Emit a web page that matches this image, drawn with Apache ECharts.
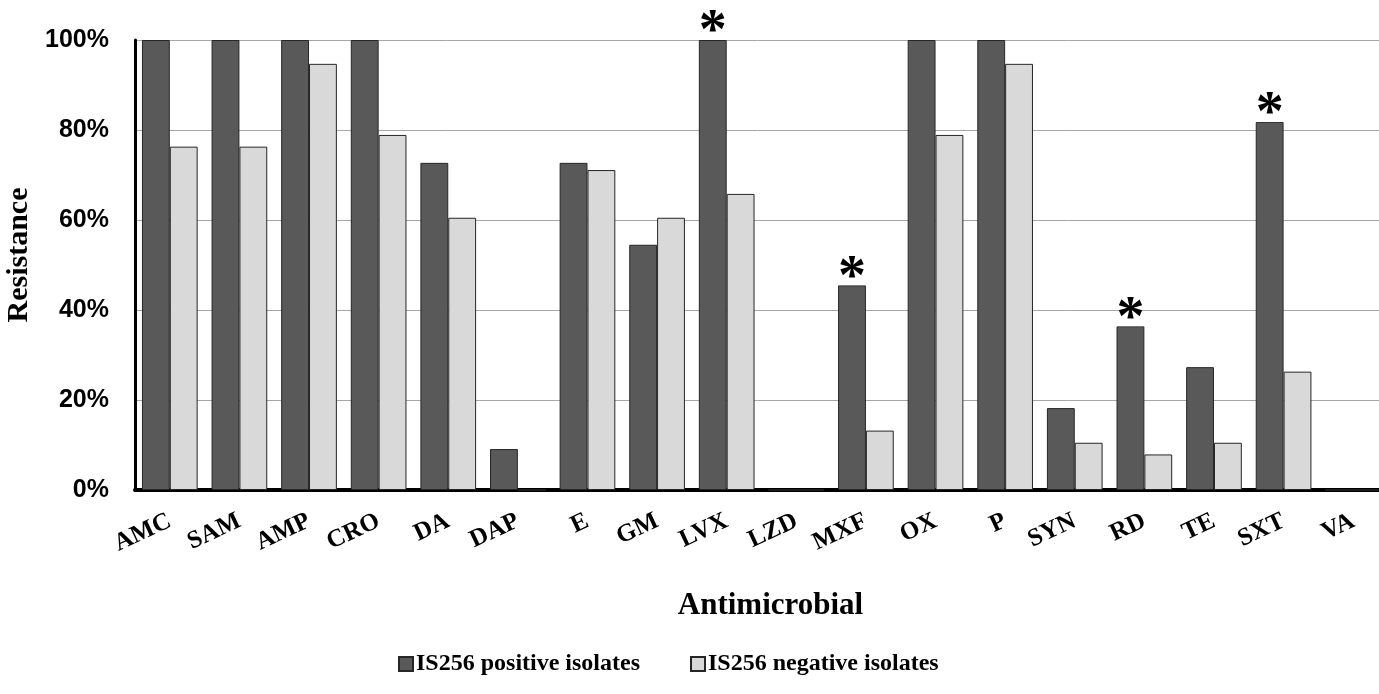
<!DOCTYPE html>
<html>
<head>
<meta charset="utf-8">
<script src="https://cdn.jsdelivr.net/npm/echarts@6/dist/echarts.min.js"></script>
<style>
  html, body { margin: 0; padding: 0; background: #fff; }
  #chart { width: 1379px; height: 694px; }
</style>
</head>
<body>
<div id="chart"></div>
<script>
// Antimicrobial agents tested
const categories = ['AMC', 'SAM', 'AMP', 'CRO', 'DA', 'DAP', 'E', 'GM', 'LVX', 'LZD',
                    'MXF', 'OX', 'P', 'SYN', 'RD', 'TE', 'SXT', 'VA'];
// Resistance (%) among IS256-positive isolates
const positiveValues = [100, 100, 100, 100, 72.7, 9.1, 72.7, 54.5, 100, 0,
                        45.5, 100, 100, 18.2, 36.4, 27.3, 81.8, 0];
// Resistance (%) among IS256-negative isolates
const negativeValues = [76.3, 76.3, 94.7, 78.9, 60.5, 0, 71.1, 60.5, 65.8, 0,
                        13.2, 78.9, 94.7, 10.5, 7.9, 10.5, 26.3, 0];
// Agents with a significant difference between the two groups
const significant = ['LVX', 'MXF', 'RD', 'SXT'];
// Y-axis ticks
const yTicks = [0, 20, 40, 60, 80, 100];

const serif = '"Liberation Serif", "Times New Roman", serif';
const sans = '"Liberation Sans", Arial, sans-serif';

const chart = echarts.init(document.getElementById('chart'), null, { renderer: 'canvas' });

chart.setOption({
  animation: false,
  backgroundColor: '#ffffff',
  grid: { left: 135, right: -9, top: 40, bottom: 204, containLabel: false, outerBoundsMode: 'none' },
  legend: {
    left: 393,
    top: 647,
    itemWidth: 14,
    itemHeight: 14,
    itemGap: 50,
    icon: 'rect',
    textStyle: { fontFamily: serif, fontWeight: 'bold', fontSize: 24, color: '#000', padding: [0, 0, 0, -2] },
    data: ['IS256 positive isolates', 'IS256 negative isolates']
  },
  xAxis: {
    type: 'category',
    data: categories,
    name: 'Antimicrobial',
    nameLocation: 'middle',
    nameGap: 100,
    nameTextStyle: { fontFamily: serif, fontWeight: 'bold', fontSize: 31, color: '#000', padding: [0, 0, 0, 18] },
    axisLine: { show: true, lineStyle: { color: '#000', width: 4 } },
    axisTick: { show: false },
    axisLabel: {
      rotate: 25,
      margin: 30,
      interval: 0,
      fontFamily: serif,
      fontWeight: 'bold',
      fontSize: 25,
      color: '#000'
    },
    splitLine: { show: false }
  },
  yAxis: {
    type: 'value',
    min: yTicks[0],
    max: yTicks[yTicks.length - 1],
    interval: 20,
    name: 'Resistance',
    nameLocation: 'middle',
    nameGap: 93,
    nameRotate: 90,
    nameTextStyle: { fontFamily: serif, fontWeight: 'bold', fontSize: 30, color: '#000', padding: [0, 0, 0, 20] },
    axisLine: { show: true, lineStyle: { color: '#000', width: 3 } },
    axisTick: { show: false },
    axisLabel: {
      margin: 26,
      fontFamily: sans,
      fontWeight: 'bold',
      fontSize: 25,
      color: '#000',
      formatter: v => v + '%'
    },
    splitLine: { show: true, lineStyle: { color: '#a6a6a6', width: 1 } }
  },
  series: [
    {
      name: 'IS256 positive isolates',
      type: 'bar',
      data: positiveValues,
      barGap: '0%',
      barCategoryGap: '20%',
      itemStyle: { color: '#595959', borderColor: '#262626', borderWidth: 1 },
      label: {
        show: true,
        position: 'top',
        distance: 0,
        formatter: p => significant.includes(p.name) ? '*' : '',
        fontFamily: serif,
        fontWeight: 'bold',
        fontSize: 56,
        lineHeight: 12,
        color: '#000',
        backgroundColor: '#fff',
        padding: [0, 5]
      },
      z: 3
    },
    {
      name: 'IS256 negative isolates',
      type: 'bar',
      data: negativeValues,
      barGap: '0%',
      barCategoryGap: '20%',
      itemStyle: { color: '#d9d9d9', borderColor: '#262626', borderWidth: 1 },
      z: 3
    }
  ]
});
</script>
</body>
</html>
